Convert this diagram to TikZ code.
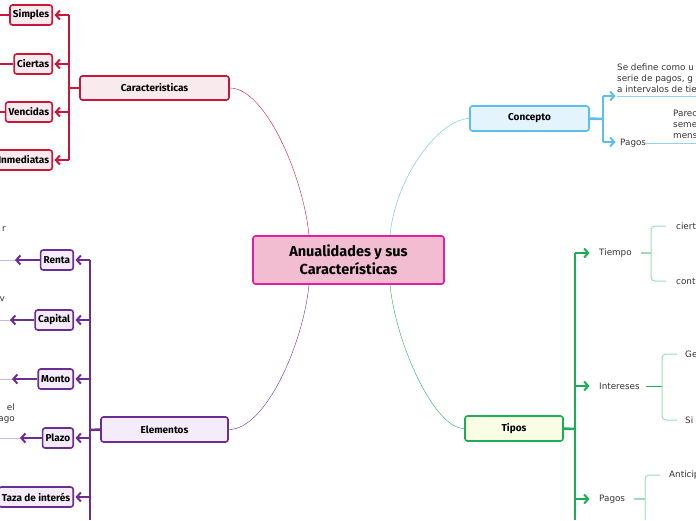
\documentclass[tikz,border=0pt]{standalone}
\usepackage{fontspec}
\setsansfont{Fira Sans}
\newfontfamily\plainfont{DejaVu Sans}
\usetikzlibrary{positioning,calc,arrows.meta}

\definecolor{rootfill}{HTML}{F2BCD1}
\definecolor{rootline}{HTML}{E01FA6}
\definecolor{carline}{HTML}{C8173A}
\definecolor{carfill}{HTML}{F9EAEE}
\definecolor{eleline}{HTML}{6B2D91}
\definecolor{elefill}{HTML}{F5ECFB}
\definecolor{eleleaf}{HTML}{D4B3EA}
\definecolor{conline}{HTML}{5BBFEA}
\definecolor{confill}{HTML}{E3F4FC}
\definecolor{conleaf}{HTML}{8FD3F2}
\definecolor{tipline}{HTML}{1AAE55}
\definecolor{tipfill}{HTML}{F8FDE3}
\definecolor{tipleaf}{HTML}{9ADDB5}
\definecolor{txt}{HTML}{333333}

\begin{document}
\begin{tikzpicture}[x=1pt,y=-1pt,>={Straight Barb[length=4pt,width=9pt]},
	box/.style={draw, rounded corners=2.5pt, line width=1.6pt, align=center,
		font=\sffamily\bfseries\fontsize{10}{12}\selectfont, inner sep=3pt, minimum height=20pt},
	root node/.style={box, draw=rootline, fill=rootfill, minimum width=191pt, minimum height=48pt,
		font=\sffamily\bfseries\fontsize{14.5}{18}\selectfont},
	car node/.style={box, draw=carline, fill=carfill},
	ele node/.style={box, draw=eleline, fill=elefill},
	con node/.style={box, draw=conline, fill=confill},
	tip node/.style={box, draw=tipline, fill=tipfill},
	leaftext/.style={font=\plainfont\fontsize{8.8}{11}\selectfont, text=txt, inner sep=0pt, align=left},
	trunk/.style={line width=2.5pt},
	arr/.style={->, line width=2pt, shorten >=1.5pt}]

	\useasboundingbox (0,0) rectangle (696,520);
	\coordinate (o) at (0,0);
	\coordinate (bot) at (0,520);

	% centre
	\node[root node] (root) at (348.5,260) {Anualidades y sus\\Características};

	% main branches
	\node[car node, minimum width=149pt, minimum height=24pt] (car) at (154.5,88) {Caracteristicas};
	\node[ele node, minimum width=127pt, minimum height=25pt] (ele) at (164.5,429.5) {Elementos};
	\node[con node, minimum width=119pt, minimum height=25pt] (con) at (529.5,118.5) {Concepto};
	\node[tip node, minimum width=98pt, minimum height=25pt] (tip) at (514,428.5) {Tipos};

	\draw[carline] ([xshift=-39.5pt]root.north) .. controls (303,175) and (265,88) .. (car.east);
	\draw[conline] ([xshift=41.5pt]root.north) .. controls (396,175) and (440,119) .. (con.west);
	\draw[eleline] ([xshift=-39.5pt]root.south) .. controls (303,345) and (265,430) .. (ele.east);
	\draw[tipline] ([xshift=41.5pt]root.south) .. controls (396,345) and (435,429) .. (tip.west);

	% Caracteristicas
	\node[car node, anchor=east] (simples) at (53,15) {Simples};
	\node[car node, anchor=east] (ciertas) at (53,64) {Ciertas};
	\node[car node, anchor=east] (vencidas) at (53,112) {Vencidas};
	\node[car node, anchor=east] (inmediatas) at (53,160) {Inmediatas};

	\coordinate (ct) at (69,88);
	\draw[carline, trunk] (ct |- simples) -- (ct |- inmediatas);
	\draw[carline, trunk] (car.west) -- (ct);
	\foreach \n in {simples,ciertas,vencidas,inmediatas} {
		\draw[carline, arr] (ct |- \n.east) -- (\n.east);
		\draw[carline, line width=2pt] (\n.west) -- (\n.west -| o);
	}

	% Elementos
	\node[ele node, anchor=east] (renta) at (74,260) {Renta};
	\node[ele node, anchor=east] (capital) at (74,320) {Capital};
	\node[ele node, anchor=east] (monto) at (74,379) {Monto};
	\node[ele node, anchor=east] (plazo) at (74,438) {Plazo};
	\node[ele node, anchor=east] (taza) at (74,497) {Taza de interés};

	\coordinate (et) at (90,430);
	\draw[eleline, trunk] (et |- renta) -- (et |- bot);
	\draw[eleline, trunk] (ele.west) -- (et);
	\foreach \n in {renta,capital,monto,plazo,taza}
		\draw[eleline, arr] (et |- \n.east) -- (\n.east);
	\foreach \n/\x in {renta/15,capital/10,monto/12,plazo/20} {
		\coordinate (tip\n) at (\x,0);
		\draw[eleleaf, line width=1pt] (\n.west) -- (\n.west -| o);
		\draw[eleline, arr, shorten >=0pt] (\n.west) -- (\n.west -| tip\n);
	}
	\node[leaftext, anchor=east] (rtext) at (6,229) {r};
	\node[leaftext, anchor=east] (ctext) at (5,299) {v};
	\node[leaftext, anchor=east, align=right] (ptext) at (15,413.5) {el\\ago};

	% Concepto
	\coordinate (cb) at (603,119);
	\coordinate (cdef) at (617,96);
	\coordinate (cpag) at (617,142);
	\draw[conline, trunk] (con.east) -- (cb);
	\draw[conline, trunk] (cb |- cdef) -- (cb |- cpag);
	\draw[conline, arr] (cb |- cdef) -- (cdef);
	\draw[conline, arr] (cb |- cpag) -- (cpag);
	\node[leaftext, anchor=south west] (def) at (617,93) {Se define como u\\serie de pagos, g\\a intervalos de tie};
	\node[leaftext, anchor=west] (pagos) at (620,143) {Pagos};
	\node[leaftext, anchor=south west] (parec) at (673,139) {Parec\\seme\\mens};
	\draw[conleaf, line width=1pt] (cdef) -- (cdef -| 696,0);
	\draw[conleaf, line width=1pt] (pagos.east) -- (pagos.east -| 696,0);

	% Tipos
	\coordinate (tt) at (575,429);
	\node[leaftext, anchor=west] (tiempo) at (599,253) {Tiempo};
	\node[leaftext, anchor=west] (intereses) at (599,386) {Intereses};
	\node[leaftext, anchor=west] (pagosb) at (599,499) {Pagos};
	\draw[tipline, trunk] (tt |- tiempo) -- (tt |- bot);
	\draw[tipline, trunk] (tip.east) -- (tt);
	\foreach \n in {tiempo,intereses,pagosb}
		\draw[tipline, arr] (tt |- \n.west) -- ([xshift=-8pt]\n.west);

	\node[leaftext, anchor=west] (cierta) at (676,226) {ciert};
	\node[leaftext, anchor=west] (conti) at (676,281) {cont};
	\draw[tipleaf, line width=1.5pt] ([xshift=9pt]tiempo.east) -- (651,253);
	\draw[tipleaf, line width=1pt, rounded corners=4pt] (666,226) -- (651,226) -- (651,281) -- (666,281);

	\node[leaftext, anchor=west] (gen) at (685,354) {Ge};
	\node[leaftext, anchor=west] (sim) at (685,420) {Si};
	\draw[tipline, line width=1pt] ([xshift=6pt]intereses.east) -- (662,386);
	\draw[tipleaf, line width=1pt, rounded corners=4pt] (677,354) -- (662,354) -- (662,420) -- (677,420);

	\node[leaftext, anchor=west] (antic) at (669,475) {Anticip};
	\draw[tipleaf, line width=1.5pt] ([xshift=9pt]pagosb.east) -- (645,499);
	\draw[tipleaf, line width=1pt, rounded corners=4pt] (660,475) -- (645,475) -- (645,520);
\end{tikzpicture}
\end{document}
